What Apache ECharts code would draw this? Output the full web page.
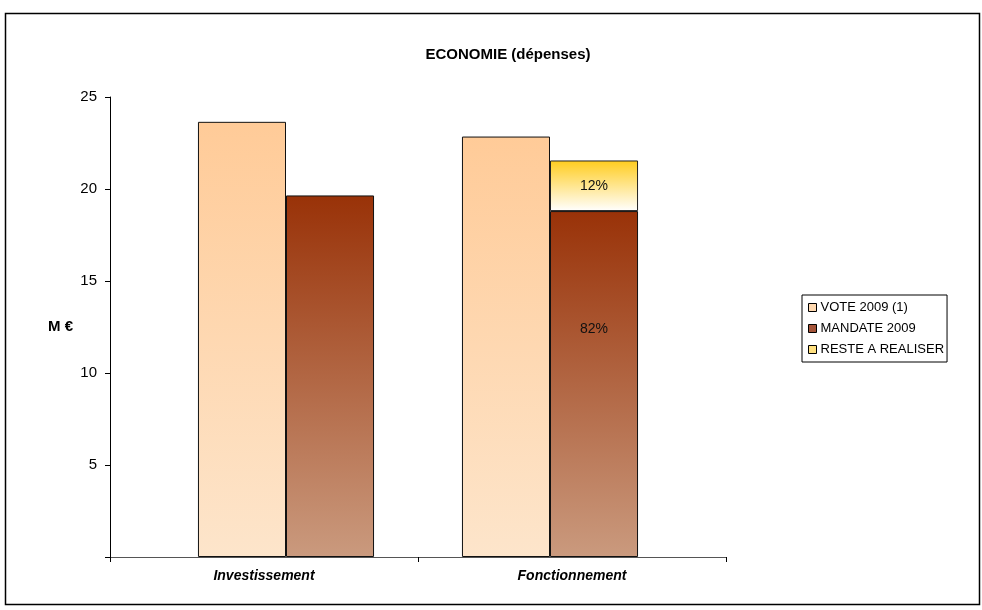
<!DOCTYPE html>
<html><head><meta charset="utf-8">
<script src="https://cdn.jsdelivr.net/npm/echarts@6/dist/echarts.min.js"></script>
<style>html,body{margin:0;padding:0;background:#fff}#c{width:982px;height:610px}</style>
</head><body><div id="c"></div>
<script>
const categories = ['Investissement', 'Fonctionnement'];
const voteValues = [23.65, 22.85];
const mandateValues = [19.65, 18.8];
const resteValues = [null, 2.75];
const mandateLabels = ['', '82%'];
const resteLabels = ['', '12%'];
const yTicks = [5, 10, 15, 20, 25];

const FONT = 'Liberation Sans, Arial, sans-serif';
function vgrad(top, bottom) {
  return new echarts.graphic.LinearGradient(0, 0, 0, 1, [{offset: 0, color: top}, {offset: 1, color: bottom}]);
}
const chart = echarts.init(document.getElementById('c'), null, {renderer: 'canvas'});
chart.setOption({
  animation: false,
  backgroundColor: '#fff',
  textStyle: {fontFamily: FONT},
  graphic: [{type: 'rect', shape: {x: 5.5, y: 13.5, width: 974, height: 591}, style: {fill: 'none', stroke: '#000', lineWidth: 1.5}, z: -1}],
  title: {text: 'ECONOMIE (dépenses)', left: 503, top: 42, textAlign: 'center',
    textStyle: {fontFamily: FONT, fontSize: 15, fontWeight: 'bold', color: '#000'}},
  legend: {
    orient: 'vertical', left: 802, top: 295,
    padding: [6, 3, 6, 6], itemGap: 8, itemWidth: 8, itemHeight: 8, icon: 'rect',
    borderColor: '#000', borderWidth: 1,
    textStyle: {fontFamily: FONT, fontSize: 13, color: '#000', padding: [0, 0, 0, -1]},
    data: [
      {name: 'VOTE 2009 (1)', itemStyle: {color: '#FFD9B0', borderColor: '#000', borderWidth: 1}},
      {name: 'MANDATE 2009', itemStyle: {color: '#A5553A', borderColor: '#000', borderWidth: 1}},
      {name: 'RESTE A REALISER', itemStyle: {color: '#FFE080', borderColor: '#000', borderWidth: 1}}
    ]
  },
  grid: [
    {left: 110, right: 256, top: 97, bottom: 53},
    {left: 154, right: 300, top: 97, bottom: 53}
  ],
  xAxis: [{
    type: 'category', data: categories, gridIndex: 0,
    axisLine: {lineStyle: {color: '#555', width: 1}},
    axisTick: {show: true, length: 5, lineStyle: {color: '#000'}},
    axisLabel: {fontFamily: FONT, fontSize: 14, fontWeight: 'bold', fontStyle: 'italic', color: '#000', margin: 12}
  }, {
    type: 'category', data: categories, gridIndex: 1, show: false
  }],
  yAxis: [{
    type: 'value', min: 0, max: 25, interval: 5, gridIndex: 0,
    name: 'M €', nameLocation: 'middle', nameRotate: 0, nameGap: 37,
    nameTextStyle: {fontFamily: FONT, fontSize: 15, fontWeight: 'bold', color: '#000'},
    axisLine: {show: true, lineStyle: {color: '#000', width: 1}},
    axisTick: {show: true, length: 5, lineStyle: {color: '#000'}},
    splitLine: {show: false},
    axisLabel: {fontFamily: FONT, fontSize: 15, color: '#000', margin: 13,
      formatter: v => yTicks.includes(v) ? String(v) : ''}
  }, {
    type: 'value', min: 0, max: 25, interval: 5, gridIndex: 1, show: false, splitLine: {show: false}
  }],
  series: [
    {name: 'VOTE 2009 (1)', type: 'bar', xAxisIndex: 1, yAxisIndex: 1, data: voteValues, barGap: '0%', barCategoryGap: '33.3%',
      itemStyle: {color: vgrad('#FFCB98', '#FDE5CB'), borderColor: '#111', borderWidth: 1}},
    {name: 'MANDATE 2009', type: 'bar', xAxisIndex: 1, yAxisIndex: 1, stack: 'm', data: mandateValues,
      itemStyle: {color: vgrad('#993208', '#CA9A7E'), borderColor: '#111', borderWidth: 1},
      label: {show: true, position: ['50%', '34%'], align: 'center', verticalAlign: 'middle',
        fontFamily: FONT, fontSize: 14, color: '#111', formatter: p => mandateLabels[p.dataIndex]}},
    {name: 'RESTE A REALISER', type: 'bar', xAxisIndex: 1, yAxisIndex: 1, stack: 'm', data: resteValues,
      itemStyle: {color: vgrad('#FFCC1E', '#FFFFFF'), borderColor: '#222', borderWidth: 1},
      label: {show: true, position: 'inside',
        fontFamily: FONT, fontSize: 14, color: '#111', formatter: p => resteLabels[p.dataIndex]}}
  ]
});
</script></body></html>
